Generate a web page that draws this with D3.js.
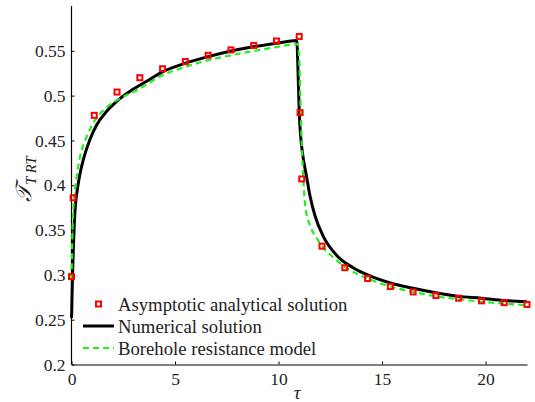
<!DOCTYPE html>
<html>
<head>
<meta charset="utf-8">
<script src="https://cdn.jsdelivr.net/npm/d3@7"></script>
</head>
<body style="margin:0">
<svg class="Chart__SVG" width="535" height="402"></svg>
<script>
const serif = '"Liberation Serif"';

// asymptotic analytical solution (markers)
const asymTau = [0, 0.08, 1.1, 2.2, 3.3, 4.4, 5.5, 6.6, 7.7, 8.8, 9.9, 11.0, 11.04, 11.12,
  12.1, 13.2, 14.3, 15.4, 16.5, 17.6, 18.7, 19.8, 20.9, 22.0];
const asymVal = [0.298, 0.386, 0.478, 0.504, 0.520, 0.530, 0.538, 0.545, 0.551, 0.556, 0.561, 0.566, 0.481, 0.407,
  0.332, 0.308, 0.296, 0.287, 0.281, 0.277, 0.274, 0.271, 0.269, 0.267];

// numerical solution (black line)
const numTau = [0, 0.01, 0.02, 0.05, 0.09, 0.14, 0.2, 0.3, 0.42, 0.57, 0.89, 1.22, 1.7, 2.18, 2.83, 3.63, 4.39, 5.48,
  6.6, 7.66, 8.78, 9.91, 10.88, 10.95, 11.0, 11.05, 11.15, 11.35, 11.52, 11.76, 12.16, 12.8, 13.6, 14.3,
  15.4, 16.5, 17.6, 18.7, 19.8, 20.9, 22];
const numVal = [0.252, 0.258, 0.27, 0.3, 0.33, 0.36, 0.38, 0.398, 0.414, 0.4285, 0.451, 0.4676, 0.4825, 0.4937, 0.505, 0.516, 0.5265, 0.536,
  0.5435, 0.5495, 0.5545, 0.5585, 0.5615, 0.52, 0.481, 0.46, 0.437, 0.41, 0.388, 0.366, 0.343, 0.322, 0.308, 0.3,
  0.291, 0.285, 0.28, 0.276, 0.274, 0.2715, 0.27];

// borehole resistance model (green dashed)
const bhTau = [0, 0.02, 0.05, 0.1, 0.17, 0.25, 0.41, 0.73, 1.14, 1.7, 2.34, 3.15, 4.39, 5.5, 6.6, 7.7, 8.78, 9.8, 10.92,
  11.0, 11.05, 11.1, 11.15, 11.2, 11.3, 11.54, 11.87, 12.1, 12.67, 13.2, 14.3, 15.4, 16.5, 17.6, 18.7, 19.8, 20.9, 22];
const bhVal = [0.295, 0.32, 0.35, 0.378, 0.395, 0.41, 0.4317, 0.454, 0.4727, 0.487, 0.4968, 0.506, 0.5228, 0.532, 0.5395, 0.545, 0.5498, 0.5537, 0.5575,
  0.54, 0.5, 0.46, 0.43, 0.405, 0.375, 0.354, 0.34, 0.332, 0.319, 0.309, 0.296, 0.287, 0.281, 0.276, 0.273, 0.27, 0.268, 0.266];

const xTicks = [0, 5, 10, 15, 20];
const yTicks = [0.2, 0.25, 0.3, 0.35, 0.4, 0.45, 0.5, 0.55];
const yTickLabels = ["0.2", "0.25", "0.3", "0.35", "0.4", "0.45", "0.5", "0.55"];
const legendNames = ["Asymptotic analytical solution", "Numerical solution", "Borehole resistance model"];

const svg = d3.select(".Chart__SVG");

const x = d3.scaleLinear().domain([0, 22]).range([71.5, 527]);
const y = d3.scaleLinear().domain([0.2, 0.6]).range([364.5, 6]);

// axes, MATLAB style inward ticks, no box
const xAxis = svg.append("g")
    .attr("transform", `translate(0,${y(0.2)})`)
    .call(d3.axisBottom(x).tickValues(xTicks).tickSizeInner(-3).tickSizeOuter(0).tickPadding(8));
const yAxis = svg.append("g")
    .attr("transform", `translate(${x(0)},0)`)
    .call(d3.axisLeft(y).tickValues(yTicks).tickFormat((d, i) => yTickLabels[i]).tickSizeInner(-3).tickSizeOuter(0).tickPadding(6));

[xAxis, yAxis].forEach(a => {
    a.attr("font-family", null).attr("font-size", null);
    a.select(".domain").attr("stroke", "#000").attr("stroke-width", 1.2);
    a.selectAll(".tick line").attr("stroke", "#000");
    a.selectAll("text").style("font-family", serif).attr("font-size", 17.5).attr("fill", "#222");
});
// the y axis line runs to the top of the plot
yAxis.select(".domain").attr("d", `M0,${y(0.2)}V${y(0.6)}`);

const line = d3.line()
    .x(d => x(d[0]))
    .y(d => y(d[1]))
    .curve(d3.curveMonotoneX);

svg.append("path")
    .datum(numTau.map((t, i) => [t, numVal[i]]))
    .attr("d", line)
    .attr("fill", "none")
    .attr("stroke", "#000")
    .attr("stroke-width", 3);

svg.append("path")
    .datum(bhTau.map((t, i) => [t, bhVal[i]]))
    .attr("d", line)
    .attr("fill", "none")
    .attr("stroke", "#22ee22")
    .attr("stroke-width", 2.2)
    .attr("stroke-dasharray", "6,4");

svg.selectAll("rect.marker")
    .data(asymTau.map((t, i) => [t, asymVal[i]]))
    .enter()
    .append("rect")
    .attr("class", "marker")
    .attr("x", d => x(d[0]) - 2.5)
    .attr("y", d => y(d[1]) - 2.5)
    .attr("width", 5)
    .attr("height", 5)
    .attr("fill", "none")
    .attr("stroke", "#ff0000")
    .attr("stroke-width", 2);

// legend
const legend = svg.append("g").attr("transform", "translate(83,304)");
legendNames.forEach((name, i) => {
    const row = legend.append("g").attr("transform", `translate(0,${i * 22})`);
    if (i === 0) {
        row.append("rect").attr("x", 13).attr("y", -2.5).attr("width", 5).attr("height", 5)
            .attr("fill", "none").attr("stroke", "#ff0000").attr("stroke-width", 2);
    } else {
        row.append("line").attr("x1", 0).attr("x2", 31).attr("y1", 0).attr("y2", 0)
            .attr("stroke", i === 1 ? "#000" : "#22ee22")
            .attr("stroke-width", i === 1 ? 3 : 2.2)
            .attr("stroke-dasharray", i === 1 ? null : "6,4");
    }
    row.append("text").attr("x", 35).attr("y", 6.5).attr("font-size", 18.7).attr("fill", "#222")
        .style("font-family", serif).text(name);
});

// axis labels
svg.append("text")
    .attr("x", x(11) - 2)
    .attr("y", 399)
    .attr("text-anchor", "middle")
    .attr("font-size", 19)
    .attr("font-style", "italic")
    .attr("fill", "#222")
    .style("font-family", serif)
    .text("τ");

const yLabel = svg.append("text")
    .attr("transform", "translate(31,179) rotate(-90)")
    .attr("text-anchor", "middle")
    .attr("font-size", 22)
    .attr("fill", "#222")
    .style("font-family", serif);
yLabel.append("tspan").attr("font-style", "italic").text("𝒯");
yLabel.append("tspan").attr("font-style", "italic").attr("font-size", 14.5).attr("dy", 5).text("T RT");
</script>
</body>
</html>
